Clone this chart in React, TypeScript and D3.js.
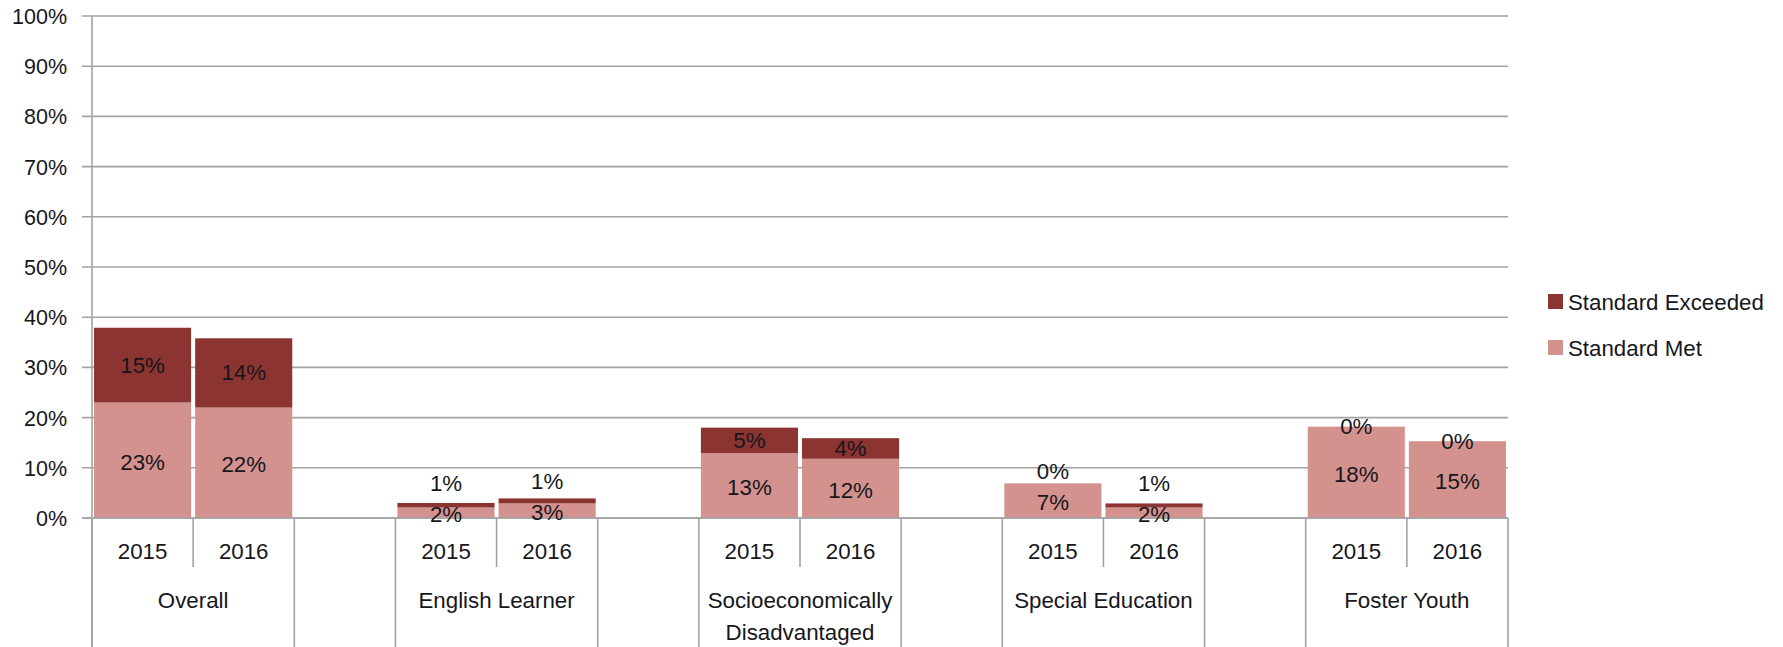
import React from "react";
import * as d3 from "d3";

const groups: string[][] = [
  ["Overall"],
  ["English Learner"],
  ["Socioeconomically", "Disadvantaged"],
  ["Special Education"],
  ["Foster Youth"],
];
const years: string[] = ["2015", "2016"];
// values in %, order: group by group, 2015 then 2016
const standardMet: number[] = [23.0, 22.0, 2.1, 2.9, 12.9, 11.8, 6.9, 2.1, 18.2, 15.3];
const standardExceeded: number[] = [14.9, 13.8, 0.9, 1.0, 5.1, 4.1, 0, 0.8, 0, 0];
const yTicks: number[] = [0, 10, 20, 30, 40, 50, 60, 70, 80, 90, 100];
const seriesNames: string[] = ["Standard Exceeded", "Standard Met"];

const W = 1783;
const H = 647;
const FONT = "'Liberation Sans', Arial, sans-serif";
const FS = 22.3;
const TEXT = "#16161c";
const GRID = "#a3a3a3";
const C_EXC = "#8c3431";
const C_MET = "#d4928f";

export default function App() {
  const left = 92;
  const right = 1508;
  const top = 16;
  const bottom = 518;

  // slots: each group has 2 years, with a blank slot between groups
  const slots: string[] = [];
  groups.forEach((_, gi) => {
    years.forEach((_, yi) => slots.push(`${gi}-${yi}`));
    if (gi < groups.length - 1) slots.push(`gap-${gi}`);
  });

  const x = d3.scaleBand<string>().domain(slots).range([left, right]).padding(0);
  const y = d3.scaleLinear().domain([0, 100]).range([bottom, top]);
  const bw = x.bandwidth();
  const barW = bw * 0.96;

  const bars: any[] = [];
  groups.forEach((_, gi) => {
    years.forEach((yr, yi) => {
      const i = gi * years.length + yi;
      const key = `${gi}-${yi}`;
      const x0 = (x(key) as number) + (bw - barW) / 2;
      const m = standardMet[i];
      const e = standardExceeded[i];
      const metTop = y(m);
      const excTop = y(m + e);
      const metLabelY = (y(0) + metTop) / 2 + 2;
      const excCenter = (metTop + excTop) / 2;
      const excLabelY = Math.min(excCenter, metLabelY - 31);
      bars.push({ key, x0, m, e, metTop, excTop, metLabelY, excLabelY, yr });
    });
  });

  return (
    <div style={{ position: "absolute", left: 0, top: 0 }}>
      <svg width={W} height={H} style={{ display: "block", background: "#fff" }}>
        {/* gridlines */}
        {yTicks.map((t) => (
          <line key={t} x1={left - 10} x2={right} y1={y(t)} y2={y(t)} stroke={GRID} strokeWidth={1.6} />
        ))}
        {/* y axis */}
        <line x1={left} x2={left} y1={top} y2={H} stroke={GRID} strokeWidth={1.6} />
        {yTicks.map((t) => (
          <text
            key={`yl${t}`}
            x={67}
            y={y(t) + 1}
            textAnchor="end"
            dominantBaseline="central"
            fontFamily={FONT}
            fontSize={21.5}
            fill={TEXT}
          >
            {t}%
          </text>
        ))}
        {/* bars */}
        {bars.map((b) => (
          <g key={b.key}>
            <rect x={b.x0} y={b.metTop} width={barW} height={y(0) - b.metTop} fill={C_MET} />
            {b.e > 0 && (
              <rect x={b.x0} y={b.excTop} width={barW} height={b.metTop - b.excTop} fill={C_EXC} />
            )}
          </g>
        ))}
        {/* redraw baseline over bars */}
        <line x1={left - 10} x2={right} y1={y(0)} y2={y(0)} stroke={GRID} strokeWidth={1.6} />
        {/* data labels */}
        {bars.map((b) => (
          <g key={`lab${b.key}`} fontFamily={FONT} fontSize={FS} fill={TEXT} textAnchor="middle">
            <text x={b.x0 + barW / 2} y={b.metLabelY} dominantBaseline="central">
              {Math.round(b.m)}%
            </text>
            <text x={b.x0 + barW / 2} y={b.excLabelY} dominantBaseline="central">
              {Math.round(b.e)}%
            </text>
          </g>
        ))}
        {/* category axis */}
        {groups.map((lines, gi) => {
          const k0 = `${gi}-0`;
          const k1 = `${gi}-${years.length - 1}`;
          const gx0 = x(k0) as number;
          const gx1 = (x(k1) as number) + bw;
          const cx = (gx0 + gx1) / 2;
          return (
            <g key={`g${gi}`}>
              <line x1={gx0} x2={gx0} y1={bottom} y2={H} stroke={GRID} strokeWidth={1.6} />
              <line x1={gx1} x2={gx1} y1={bottom} y2={H} stroke={GRID} strokeWidth={1.6} />
              {years.slice(1).map((_, yi) => {
                const xx = x(`${gi}-${yi + 1}`) as number;
                return <line key={yi} x1={xx} x2={xx} y1={bottom} y2={567} stroke={GRID} strokeWidth={1.6} />;
              })}
              {years.map((yr, yi) => (
                <text
                  key={yr}
                  x={(x(`${gi}-${yi}`) as number) + bw / 2}
                  y={551}
                  textAnchor="middle"
                  dominantBaseline="central"
                  fontFamily={FONT}
                  fontSize={FS}
                  fill={TEXT}
                >
                  {yr}
                </text>
              ))}
              {lines.map((ln, li) => (
                <text
                  key={ln}
                  x={cx}
                  y={600 + li * 32}
                  textAnchor="middle"
                  dominantBaseline="central"
                  fontFamily={FONT}
                  fontSize={FS}
                  fill={TEXT}
                >
                  {ln}
                </text>
              ))}
            </g>
          );
        })}
        {/* legend */}
        {seriesNames.map((s, i) => (
          <g key={s} transform={`translate(1548, ${294 + i * 46})`}>
            <rect x={0} y={0} width={15} height={15} fill={i === 0 ? C_EXC : C_MET} />
            <text x={20} y={8} dominantBaseline="central" fontFamily={FONT} fontSize={FS} fill={TEXT}>
              {s}
            </text>
          </g>
        ))}
      </svg>
    </div>
  );
}
